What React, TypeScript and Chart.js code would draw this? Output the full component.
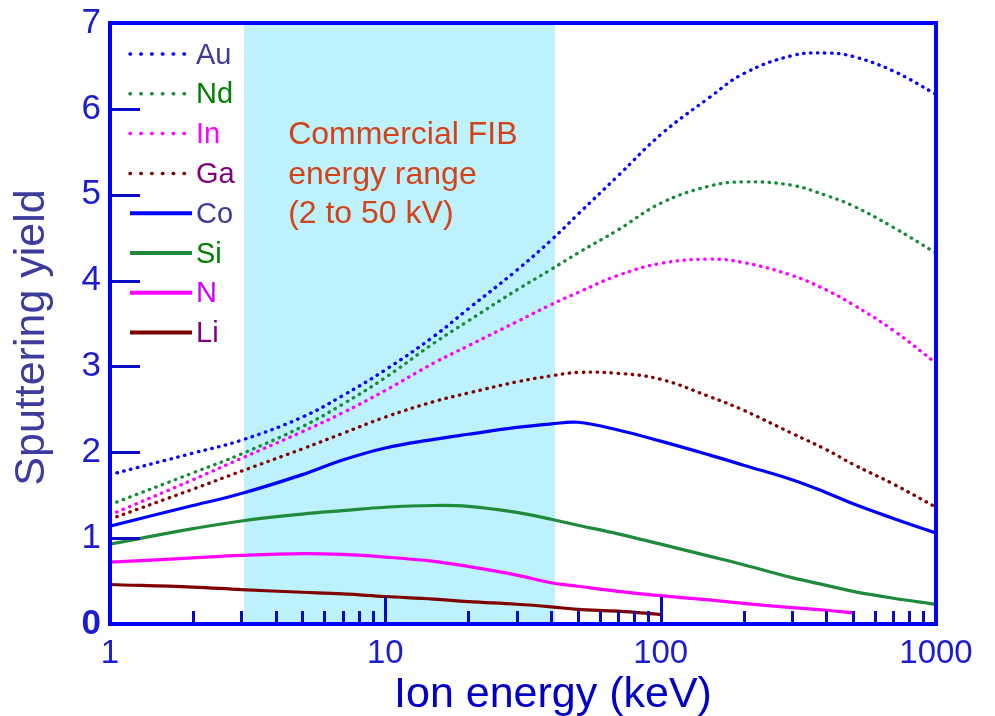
import React, { useEffect, useRef } from 'react';
import { Chart, registerables } from 'chart.js';

Chart.register(...registerables);

// ---------- data ----------
const energies = [1, 2, 3, 5, 7, 10, 15, 20, 30, 40, 50, 70, 100, 150, 200, 300, 400, 500, 700, 1000];
const seriesNames = ['Au', 'Nd', 'In', 'Ga', 'Co', 'Si', 'N', 'Li'];
const auYield = [1.74, 1.99, 2.14, 2.41, 2.66, 2.96, 3.35, 3.67, 4.12, 4.47, 4.77, 5.22, 5.70, 6.13, 6.41, 6.62, 6.65, 6.61, 6.44, 6.17];
const ndYield = [1.39, 1.76, 1.98, 2.30, 2.56, 2.87, 3.27, 3.53, 3.89, 4.13, 4.32, 4.59, 4.90, 5.10, 5.15, 5.11, 4.99, 4.87, 4.62, 4.32];
const inYield = [1.27, 1.68, 1.93, 2.24, 2.46, 2.72, 3.04, 3.24, 3.52, 3.72, 3.86, 4.06, 4.20, 4.25, 4.21, 4.06, 3.89, 3.72, 3.42, 3.04];
const gaYield = [1.22, 1.57, 1.78, 2.04, 2.22, 2.41, 2.59, 2.69, 2.82, 2.89, 2.93, 2.92, 2.85, 2.65, 2.49, 2.22, 2.03, 1.86, 1.63, 1.36];
const coYield = [1.14, 1.38, 1.52, 1.74, 1.91, 2.05, 2.15, 2.21, 2.29, 2.33, 2.35, 2.26, 2.13, 1.97, 1.85, 1.68, 1.53, 1.40, 1.23, 1.06];
const siYield = [0.93, 1.11, 1.20, 1.28, 1.32, 1.36, 1.38, 1.37, 1.30, 1.22, 1.15, 1.05, 0.93, 0.79, 0.69, 0.54, 0.45, 0.38, 0.30, 0.23];
const nYield = [0.72, 0.77, 0.80, 0.82, 0.81, 0.78, 0.73, 0.67, 0.57, 0.48, 0.44, 0.38, 0.33, 0.28, 0.24, 0.19, 0.16, 0.13, null, null];
const liYield = [0.46, 0.43, 0.40, 0.37, 0.35, 0.32, 0.29, 0.26, 0.23, 0.20, 0.17, 0.15, 0.11, null, null, null, null, null, null, null];
const allYields = [auYield, ndYield, inYield, gaYield, coYield, siYield, nYield, liYield];
const dottedSeries = [true, true, true, true, false, false, false, false];

const xTickValues = [1, 10, 100, 1000];
const xMajorInner = [10, 100];
const xMinorTicks = [2, 3, 4, 5, 6, 7, 8, 9, 20, 30, 40, 50, 60, 70, 80, 90, 200, 300, 400, 500, 600, 700, 800, 900];
const yTickMarks = [1, 2, 3, 4, 5, 6];
const fibRange = [3.07, 41.3];
const annotationLines = ['Commercial FIB', 'energy range', '(2 to 50 kV)'];
const xTitle = 'Ion energy (keV)';
const yTitle = 'Sputtering yield';

// ---------- styles ----------
const FONT = '"Liberation Sans", Arial, Helvetica, sans-serif';
const lineColors = ['#0000ff', '#178c37', '#ff00ff', '#800000', '#0000ff', '#1f8a3a', '#ff00ff', '#800000'];
const legendTextColors = ['#3c3c96', '#008000', '#ff00ff', '#800080', '#3c3c96', '#008000', '#cc00ff', '#800080'];
const BAND_COLOR = '#bdf1fb';
const FRAME_COLOR = '#0000ff';
const TICK_MARK_COLOR = '#0a0ac4';
const TICK_LABEL_COLOR = '#1c1cd0';

const decorPlugin = {
  id: 'decor',
  beforeDatasetsDraw(chart: any) {
    const { ctx, chartArea: a, scales } = chart;
    const x0 = scales.x.getPixelForValue(fibRange[0]);
    const x1 = scales.x.getPixelForValue(fibRange[1]);
    ctx.save();
    ctx.fillStyle = BAND_COLOR;
    ctx.fillRect(x0, a.top, x1 - x0, a.bottom - a.top);
    ctx.restore();
  },
  afterDatasetsDraw(chart: any) {
    const { ctx, chartArea: a, scales } = chart;
    ctx.save();
    ctx.strokeStyle = TICK_MARK_COLOR;
    ctx.lineWidth = 3;
    ctx.lineCap = 'butt';
    ctx.beginPath();
    xMinorTicks.forEach((v) => {
      const px = Math.round(scales.x.getPixelForValue(v)) + 0.5;
      ctx.moveTo(px, a.bottom);
      ctx.lineTo(px, a.bottom - 13);
    });
    xMajorInner.forEach((v) => {
      const px = Math.round(scales.x.getPixelForValue(v)) + 0.5;
      ctx.moveTo(px, a.bottom);
      ctx.lineTo(px, a.bottom - 27);
    });
    yTickMarks.forEach((v) => {
      const py = Math.round(scales.y.getPixelForValue(v)) + 0.5;
      ctx.moveTo(a.left, py);
      ctx.lineTo(a.left + 30, py);
    });
    ctx.stroke();
    ctx.strokeStyle = FRAME_COLOR;
    ctx.lineWidth = 4;
    ctx.strokeRect(a.left, a.top, a.right - a.left, a.bottom - a.top);
    ctx.restore();
  },
  afterDraw(chart: any) {
    const { ctx, chartArea: a, scales } = chart;
    ctx.save();
    // legend
    chart.data.datasets.forEach((ds: any, i: number) => {
      const cy = a.top + 30 + i * 39.8;
      const dotted = dottedSeries[i];
      ctx.beginPath();
      ctx.strokeStyle = ds.borderColor;
      if (dotted) {
        ctx.lineWidth = 3.5;
        ctx.lineCap = 'round';
        ctx.setLineDash([0.5, 10.3]);
        ctx.moveTo(a.left + 20, cy + 1);
        ctx.lineTo(a.left + 76, cy + 1);
      } else {
        ctx.lineWidth = 4;
        ctx.lineCap = 'butt';
        ctx.setLineDash([]);
        ctx.moveTo(a.left + 20, cy + 1);
        ctx.lineTo(a.left + 82, cy + 1);
      }
      ctx.stroke();
      ctx.setLineDash([]);
      ctx.fillStyle = legendTextColors[i];
      ctx.font = `29px ${FONT}`;
      ctx.textAlign = 'left';
      ctx.textBaseline = 'alphabetic';
      ctx.fillText(ds.label, a.left + 86, cy + 10.5);
    });
    // annotation
    const ax = scales.x.getPixelForValue(fibRange[0]) + 44;
    ctx.fillStyle = '#d4421a';
    ctx.font = `32px ${FONT}`;
    annotationLines.forEach((t, i) => {
      ctx.fillText(t, ax, a.top + 121 + i * 39.5);
    });
    // axis titles
    ctx.font = `43px ${FONT}`;
    ctx.textAlign = 'center';
    ctx.textBaseline = 'alphabetic';
    ctx.fillStyle = '#0000c8';
    ctx.fillText(xTitle, (a.left + a.right) / 2 + 30, a.bottom + 83);
    ctx.fillStyle = '#3c3c9c';
    ctx.translate(a.left - 66, (a.top + a.bottom) / 2 + 14);
    ctx.rotate(-Math.PI / 2);
    ctx.fillText(yTitle, 0, 0);
    ctx.restore();
  },
};

export default function App() {
  const canvasRef = useRef<HTMLCanvasElement | null>(null);

  useEffect(() => {
    const canvas = canvasRef.current;
    if (!canvas) return;
    const datasets = seriesNames.map((name, i) => ({
      label: name,
      data: energies
        .map((e, j) => ({ x: e, y: allYields[i][j] }))
        .filter((p) => p.y !== null),
      borderColor: lineColors[i],
      backgroundColor: lineColors[i],
      borderWidth: dottedSeries[i] ? 3.3 : 3.2,
      borderDash: dottedSeries[i] ? [0.5, 6.5] : [],
      borderCapStyle: dottedSeries[i] ? 'round' : 'butt',
      pointRadius: 0,
      fill: false,
      tension: 0.4,
      cubicInterpolationMode: 'default',
    }));

    const chart = new Chart(canvas, {
      type: 'line',
      data: { datasets } as any,
      plugins: [decorPlugin],
      options: {
        animation: false,
        responsive: false,
        events: [],
        layout: { padding: { top: 23, right: 59, left: 0, bottom: 0 } },
        plugins: { legend: { display: false }, tooltip: { enabled: false } },
        scales: {
          x: {
            type: 'logarithmic',
            min: 1,
            max: 1000,
            grid: { display: false, drawTicks: false },
            border: { display: false },
            afterBuildTicks: (s: any) => {
              s.ticks = xTickValues.map((v) => ({ value: v }));
            },
            afterFit: (s: any) => {
              s.height = 92;
              s.paddingLeft = 0;
              s.paddingRight = 0;
            },
            ticks: {
              autoSkip: false,
              maxRotation: 0,
              padding: 10,
              color: TICK_LABEL_COLOR,
              font: { size: 33, family: FONT },
              callback: (v: any) => String(v),
            },
            title: { display: false },
          },
          y: {
            min: 0,
            max: 7,
            grid: { display: false, drawTicks: false },
            border: { display: false },
            afterFit: (s: any) => {
              s.width = 110;
              s.paddingTop = 0;
              s.paddingBottom = 0;
            },
            ticks: {
              stepSize: 1,
              padding: 9,
              color: TICK_LABEL_COLOR,
              font: (c: any) => ({
                size: 35,
                family: FONT,
                weight: c.tick && c.tick.value === 0 ? 'bold' : 'normal',
              }),
            },
            title: { display: false },
          },
        },
      } as any,
    });
    return () => chart.destroy();
  }, []);

  return (
    <canvas
      ref={canvasRef}
      width={995}
      height={716}
      style={{ position: 'fixed', left: 0, top: 0, width: 995, height: 716, display: 'block', background: '#fff' }}
    />
  );
}
